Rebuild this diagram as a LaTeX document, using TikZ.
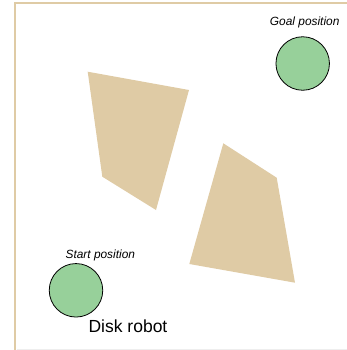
\documentclass[tikz,border=0pt]{standalone}
\usepackage{fontspec}
\setmainfont{Liberation Sans}
\definecolor{sand}{RGB}{223,203,165}
\definecolor{diskgreen}{RGB}{151,208,154}
\definecolor{edgegray}{RGB}{238,238,238}
\begin{document}
\begin{tikzpicture}[x=1bp,y=-1bp,
  obstacle/.style={fill=sand,draw=none},
  disk/.style={circle,draw=black,line width=0.8bp,fill=diskgreen,minimum size=53.5bp,inner sep=0pt},
  poslabel/.style={font=\fontsize{11.9bp}{13bp}\selectfont\itshape,inner sep=0pt},
  wall/.style={draw=sand,line width=2.2bp}]
  \useasboundingbox (0,0) rectangle (347,350);
  % workspace walls
  \draw[wall] (15,350) -- (15,3) -- (347,3);
  \draw[edgegray,line width=0.8bp] (17,349.5) -- (347,349.5);
  % obstacles
  \path[obstacle] (87.7,71.7) -- (189,90) -- (156,210) -- (102.3,176.7) -- cycle;
  \path[obstacle] (223.3,143.3) -- (276.7,177.7) -- (295,282.7) -- (189.3,264) -- cycle;
  % start and goal disks
  \node[disk] (goal) at (302.7,63.5) {};
  \node[poslabel] (goallabel) at (304.7,22.3) {Goal position};
  \node[disk] (start) at (76,290.3) {};
  \node[poslabel] (startlabel) at (100.3,255.7) {Start position};
  \node[font=\fontsize{17.5bp}{20bp}\selectfont,inner sep=0pt] (robot) at (128,326) {Disk robot};
\end{tikzpicture}
\end{document}
